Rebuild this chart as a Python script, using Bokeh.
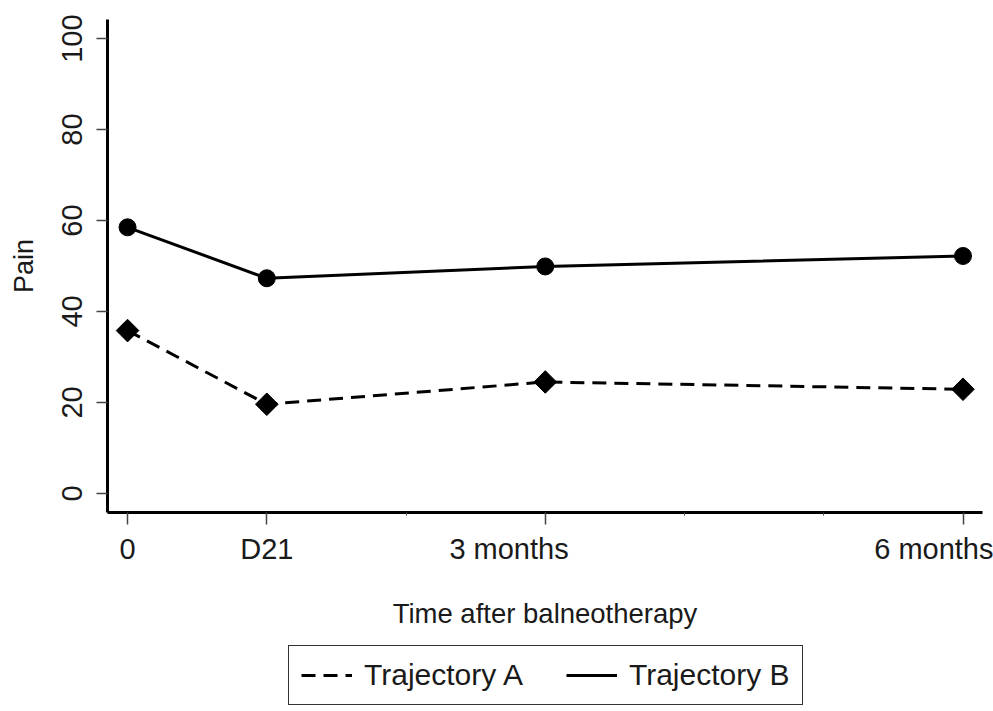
from bokeh.plotting import figure
from bokeh.layouts import column
from bokeh.models import FixedTicker, Range1d, Legend, LegendItem
from bokeh.embed import file_html
from bokeh.resources import INLINE

# ---- data ----
times = [0, 1, 3, 6]
tick_labels = ["0", "D21", "3 months", "6 months"]
minor_times = [2, 4, 5]
y_ticks = [0, 20, 40, 60, 80, 100]
traj_a = [35.8, 19.6, 24.5, 22.9]
traj_b = [58.5, 47.3, 49.9, 52.2]
series_names = ["Trajectory A", "Trajectory B"]

FONT = "Liberation Sans"
TICK_FS = "29px"
TITLE_FS = "27.5px"
LEG_FS = "30px"
DASH = "14 8"

p = figure(width=993, height=635, output_backend="svg", toolbar_location=None,
           x_range=Range1d(-0.144, 6.14), y_range=Range1d(-4.2, 104.2),
           min_border_left=107, min_border_right=11, min_border_top=19,
           min_border_bottom=123)
p.outline_line_color = None
p.xgrid.visible = False
p.ygrid.visible = False
p.background_fill_color = "white"
p.border_fill_color = "white"

p.line(times, traj_a, line_color="black", line_width=3, line_dash=DASH)
p.line(times, traj_b, line_color="black", line_width=3)
p.scatter(times, traj_a, marker="square", angle=0.785398, size=16, color="black")
p.scatter(times, traj_b, marker="circle", size=17, color="black")

# x axis
xa = p.xaxis[0]
xa.ticker = FixedTicker(ticks=times, minor_ticks=minor_times)
pad = "\u00a0"
xa.major_label_overrides = {
    0: tick_labels[0],
    1: tick_labels[1],
    3: tick_labels[2] + pad * 9,
    6: tick_labels[3],
}
xa.axis_label = "Time after balneotherapy"
ya = p.yaxis[0]
for ax in (xa, ya):
    ax.axis_line_width = 3
    ax.axis_line_color = "black"
    ax.major_tick_line_color = "#444444"
    ax.major_tick_line_width = 1.5
    ax.major_tick_in = 0
    ax.minor_tick_in = 0
    ax.major_label_text_font = FONT
    ax.major_label_text_font_size = TICK_FS
    ax.major_label_text_color = "#1a1a1a"
    ax.axis_label_text_font = FONT
    ax.axis_label_text_font_size = TITLE_FS
    ax.axis_label_text_font_style = "normal"
    ax.axis_label_text_color = "#1a1a1a"
xa.major_tick_out = 12
xa.minor_tick_out = 3
xa.minor_tick_line_color = "#444444"
xa.major_label_standoff = 8
xa.axis_label_standoff = 30

ya.ticker = FixedTicker(ticks=y_ticks, minor_ticks=[])
ya.major_tick_out = 11
ya.minor_tick_out = 0
ya.major_label_orientation = "vertical"
ya.major_label_standoff = 14
ya.axis_label = "Pain"
ya.axis_label_text_font_size = "27px"
ya.axis_label_standoff = 21

# legend strip below the chart (series drawn out of view, only the legend shows)
lg = figure(width=993, height=76, output_backend="svg", toolbar_location=None,
            x_range=Range1d(-0.144, 6.14), y_range=Range1d(500, 501),
            x_axis_type=None, y_axis_type=None, min_border=0)
lg.outline_line_color = None
lg.xgrid.visible = False
lg.ygrid.visible = False
ra = lg.line(times, traj_a, line_color="black", line_width=3, line_dash=DASH)
rb = lg.line(times, traj_b, line_color="black", line_width=3)
legend = Legend(items=[LegendItem(label=series_names[0], renderers=[ra]),
                       LegendItem(label=series_names[1], renderers=[rb])],
                orientation="horizontal", location=(181, 6))
legend.label_text_font = FONT
legend.label_text_font_size = LEG_FS
legend.label_text_color = "#1a1a1a"
legend.glyph_width = 51
legend.glyph_height = 32
legend.label_height = 32
legend.label_standoff = 12
legend.spacing = 43
legend.padding = 12
legend.margin = 0
legend.border_line_color = "#333333"
legend.border_line_alpha = 1.0
legend.border_line_width = 1.5
legend.background_fill_color = "white"
lg.add_layout(legend, "center")

layout = column(p, lg, spacing=0)
open("out.html", "w").write(file_html(layout, INLINE))
